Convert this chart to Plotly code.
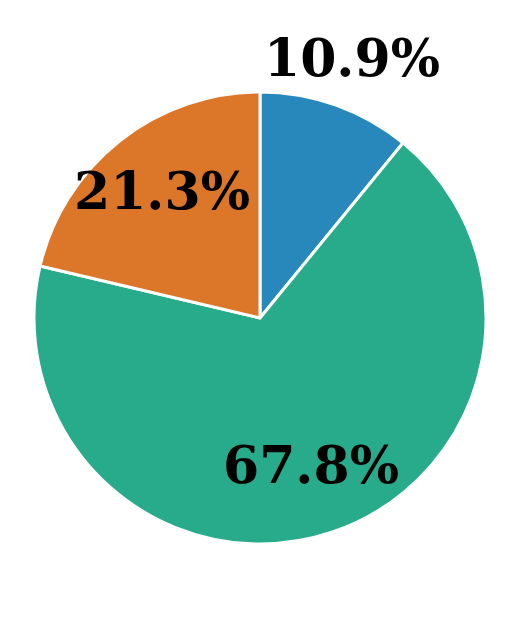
import math
import plotly.graph_objects as go

labels = ["A", "B", "C"]
values = [10.9, 67.8, 21.3]
colors = ["#2888bc", "#27ab8a", "#dc772a"]
label_dist = [1.21, 0.70, 0.70]

W, H = 519, 636
# page body has an 8px default margin, so offset the plot area accordingly
L, R, T, B = 26, 41, 84, 100

fig = go.Figure(go.Pie(
    labels=labels, values=values, sort=False, direction="clockwise", rotation=0,
    marker=dict(colors=colors, line=dict(color="white", width=3)),
    textinfo="none", hoverinfo="label+percent", showlegend=False,
))

total = sum(values)
cum = 0.0
annotations = []
for v, d in zip(values, label_dist):
    mid = (cum + v / 2) / total * 2 * math.pi
    cum += v
    x = 0.5 + 0.5 * d * math.sin(mid)
    y = 0.5 + 0.5 * d * math.cos(mid)
    annotations.append(dict(
        x=x, y=y, xref="paper", yref="paper", showarrow=False, yshift=3,
        text=f"{v:.1f}%", xanchor="center", yanchor="middle",
        font=dict(family="DejaVu Serif", size=52, color="black", weight="bold"),
    ))

fig.update_layout(
    width=W, height=H, margin=dict(l=L, r=R, t=T, b=B),
    paper_bgcolor="white", plot_bgcolor="white",
    annotations=annotations,
)
fig.write_html("out.html")
